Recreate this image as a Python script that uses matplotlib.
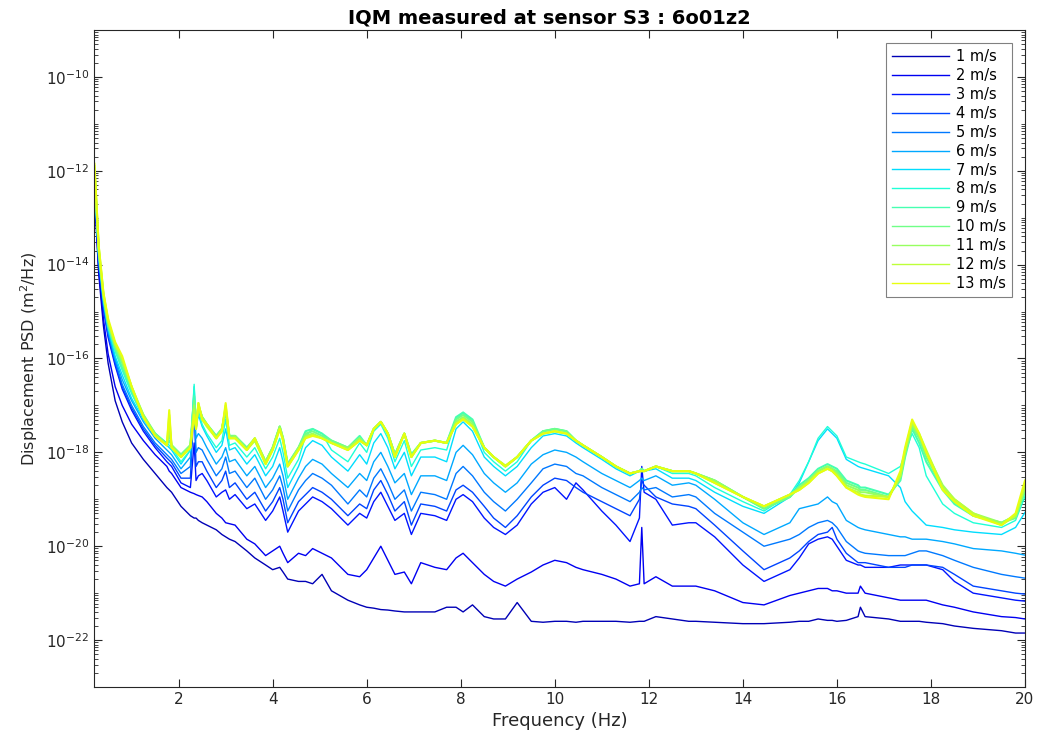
import numpy as np
import matplotlib
matplotlib.use("Agg")
import matplotlib.pyplot as plt
from matplotlib.ticker import FixedLocator, NullFormatter

plt.rcParams['font.family'] = ['DejaVu Sans']
plt.rcParams['mathtext.default'] = 'regular'

# frequency grid (Hz)
freq = [0.21, 0.3, 0.4, 0.5, 0.65, 0.8, 1.0, 1.25, 1.5, 1.75,
        1.8, 1.85, 2.05, 2.25, 2.33, 2.37, 2.42, 2.5, 2.6, 2.8,
        2.92, 3.0, 3.08, 3.2, 3.45, 3.62, 3.85, 4.15, 4.32, 4.55,
        4.85, 5.25, 5.6, 5.85, 6.0, 6.3, 6.6, 6.8, 6.95, 7.15,
        7.7, 8.05, 8.5, 8.95, 9.2, 9.5, 10.0, 10.45, 10.6, 11.0,
        11.6, 11.8, 11.85, 11.9, 12.15, 12.5, 12.85, 13.4, 14.0, 14.45,
        15.0, 15.4, 15.8, 15.9, 16.2, 16.45, 16.5, 16.6, 17.1, 17.35,
        17.6, 17.9, 18.25, 18.9, 19.5, 19.8, 20.0]

# log10 of displacement PSD (m^2/Hz), one list per wind speed
psd_01 = [-12.5, -14.2, -15.3, -16.1, -16.9, -17.35, -17.8, -18.15, -18.45, -18.75,
          -18.8, -18.85, -19.15, -19.35, -19.4, -19.4, -19.45, -19.5, -19.55, -19.65,
          -19.75, -19.8, -19.85, -19.9, -20.1, -20.25, -20.4, -20.45, -20.7, -20.75,
          -20.8, -20.95, -21.15, -21.25, -21.3, -21.35, -21.38, -21.4, -21.4, -21.4,
          -21.3, -21.4, -21.5, -21.55, -21.2, -21.6, -21.6, -21.62, -21.6, -21.6,
          -21.62, -21.6, -21.6, -21.6, -21.5, -21.55, -21.6, -21.62, -21.65, -21.65,
          -21.62, -21.6, -21.58, -21.58, -21.58, -21.5, -21.3, -21.5, -21.55, -21.6,
          -21.6, -21.62, -21.65, -21.75, -21.8, -21.85, -21.85]
psd_02 = [-12.45, -14.1, -15.15, -15.9, -16.6, -17.0, -17.4, -17.75, -18.05, -18.3,
          -18.4, -18.45, -18.75, -18.85, -18.88, -18.9, -18.92, -18.95, -19.05, -19.3,
          -19.4, -19.5, -19.52, -19.55, -19.85, -19.95, -20.2, -20.0, -20.35, -20.15,
          -20.05, -20.25, -20.6, -20.65, -20.5, -20.0, -20.6, -20.55, -20.8, -20.35,
          -20.5, -20.15, -20.6, -20.85, -20.7, -20.55, -20.3, -20.45, -20.5, -20.6,
          -20.85, -20.8, -19.6, -20.8, -20.65, -20.85, -20.85, -20.95, -21.2, -21.25,
          -21.05, -20.95, -20.9, -20.95, -21.0, -21.0, -20.85, -21.0, -21.1, -21.15,
          -21.15, -21.15, -21.25, -21.4, -21.5, -21.52, -21.55]
psd_03 = [-12.35, -14.0, -14.95, -15.55, -16.15, -16.65, -17.1, -17.55, -17.9, -18.2,
          -18.25, -18.3, -18.65, -18.75, -17.8, -18.6, -18.5, -18.45, -18.6, -18.95,
          -18.85, -18.8, -19.0, -18.9, -19.2, -19.1, -19.45, -18.95, -19.7, -19.25,
          -18.95, -19.2, -19.55, -19.3, -19.4, -18.85, -19.45, -19.3, -19.75, -19.3,
          -19.45, -18.9, -19.4, -19.75, -19.55, -19.1, -18.75, -18.65, -18.8, -19.25,
          -19.9, -19.4, -18.3, -18.85, -19.0, -19.55, -19.5, -19.8, -20.4, -20.75,
          -20.5, -19.95, -19.8, -19.85, -20.3, -20.4, -20.4, -20.45, -20.45, -20.4,
          -20.4, -20.4, -20.5, -21.0, -21.1, -21.15, -21.17]
psd_04 = [-12.3, -13.95, -14.9, -15.5, -16.1, -16.6, -17.05, -17.5, -17.85, -18.12,
          -18.17, -18.22, -18.55, -18.55, -17.0, -18.3, -18.2, -18.2, -18.4, -18.75,
          -18.6, -18.4, -18.75, -18.65, -19.0, -18.85, -19.25, -18.75, -19.5, -19.05,
          -18.75, -19.0, -19.35, -19.1, -19.2, -18.6, -19.25, -19.05, -19.55, -19.1,
          -19.25, -18.7, -19.15, -19.6, -19.35, -18.95, -18.55, -18.75, -18.85, -19.05,
          -19.35, -19.0, -18.6, -18.7, -18.95, -19.1, -19.15, -19.55, -20.1, -20.5,
          -20.25, -19.9, -19.7, -19.6, -20.15, -20.35, -20.35, -20.35, -20.45, -20.45,
          -20.4, -20.4, -20.45, -20.85, -20.95, -21.0, -21.02]
psd_05 = [-12.3, -13.9, -14.85, -15.45, -16.05, -16.55, -17.0, -17.45, -17.8, -18.05,
          -18.1, -18.15, -18.45, -18.3, -16.8, -18.0, -17.9, -17.95, -18.15, -18.5,
          -18.35, -18.1, -18.45, -18.4, -18.75, -18.55, -19.0, -18.5, -19.25, -18.8,
          -18.45, -18.7, -19.1, -18.8, -18.95, -18.35, -19.0, -18.8, -19.25, -18.85,
          -19.0, -18.3, -18.85, -19.25, -19.0, -18.65, -18.25, -18.45, -18.5, -18.75,
          -19.05, -18.85, -18.75, -18.8, -18.75, -18.95, -18.9, -19.3, -19.7, -20.0,
          -19.85, -19.6, -19.45, -19.5, -19.9, -20.1, -20.12, -20.15, -20.2, -20.2,
          -20.15, -20.1, -20.2, -20.45, -20.6, -20.65, -20.68]
psd_06 = [-12.25, -13.85, -14.8, -15.4, -16.0, -16.45, -16.9, -17.35, -17.7, -17.95,
          -18.0, -18.05, -18.35, -18.1, -17.0, -17.7, -17.6, -17.7, -17.9, -18.25,
          -18.1, -17.9, -18.2, -18.15, -18.5, -18.3, -18.75, -18.25, -19.0, -18.55,
          -18.15, -18.45, -18.75, -18.45, -18.6, -18.0, -18.65, -18.45, -18.9, -18.5,
          -18.6, -17.85, -18.45, -18.85, -18.65, -18.25, -17.95, -18.1, -18.2, -18.45,
          -18.75, -18.6, -18.55, -18.6, -18.5, -18.7, -18.65, -19.0, -19.5, -19.75,
          -19.5, -19.15, -18.95, -19.05, -19.45, -19.6, -19.62, -19.65, -19.75, -19.8,
          -19.85, -19.85, -19.9, -20.05, -20.1, -20.15, -20.19]
psd_07 = [-12.2, -13.8, -14.75, -15.35, -15.95, -16.35, -16.85, -17.3, -17.65, -17.85,
          -17.9, -17.95, -18.25, -17.95, -16.6, -17.5, -17.2, -17.45, -17.65, -18.0,
          -17.85, -17.5, -17.95, -17.9, -18.25, -18.05, -18.5, -17.9, -18.75, -18.3,
          -17.75, -18.1, -18.4, -18.05, -18.25, -17.6, -18.35, -18.0, -18.5, -18.1,
          -18.2, -17.35, -18.1, -18.5, -18.3, -17.9, -17.6, -17.8, -17.9, -18.15,
          -18.5, -18.4, -18.35, -18.4, -18.35, -18.55, -18.55, -18.85, -19.15, -19.3,
          -18.95, -18.2, -17.5, -17.6, -18.15, -18.3, -18.32, -18.35, -18.5, -18.75,
          -19.25, -19.55, -19.6, -19.7, -19.75, -19.6, -19.28]
psd_08 = [-12.1, -13.75, -14.7, -15.3, -15.85, -16.25, -16.75, -17.25, -17.6, -17.8,
          -17.85, -17.9, -18.2, -17.95, -16.55, -17.4, -17.1, -17.4, -17.6, -17.9,
          -17.75, -17.3, -17.85, -17.8, -18.1, -17.9, -18.35, -17.7, -18.55, -18.15,
          -17.5, -17.95, -18.2, -17.8, -18.0, -17.4, -18.2, -17.75, -18.3, -17.95,
          -17.95, -17.15, -18.0, -18.4, -18.2, -17.75, -17.5, -17.75, -17.85, -18.1,
          -18.45, -18.4, -18.35, -18.4, -18.3, -18.45, -18.45, -18.75, -19.05, -19.25,
          -18.9, -18.2, -17.45, -17.55, -18.1, -18.2, -18.22, -18.25, -18.45, -18.3,
          -17.6, -18.5, -19.1, -19.5, -19.6, -19.45, -18.94]
psd_09 = [-12.05, -13.7, -14.7, -15.3, -15.8, -16.2, -16.7, -17.25, -17.6, -17.82,
          -17.75, -17.85, -18.05, -17.85, -16.8, -17.4, -17.05, -17.25, -17.4, -17.65,
          -17.5, -17.15, -17.65, -17.65, -17.9, -17.75, -18.2, -17.45, -18.25, -17.9,
          -17.5, -17.75, -17.9, -17.65, -17.85, -17.35, -18.05, -17.6, -18.05, -17.8,
          -17.8, -17.15, -17.9, -18.3, -18.1, -17.75, -17.5, -17.75, -17.85, -18.1,
          -18.45, -18.4, -18.35, -18.4, -18.3, -18.4, -18.4, -18.6, -18.95, -19.2,
          -18.95, -18.55, -18.25, -18.3, -18.6, -18.7, -18.75, -18.75, -18.9, -18.6,
          -17.5, -18.2, -18.8, -19.35, -19.5, -19.35, -18.85]
psd_10 = [-12.0, -13.7, -14.65, -15.25, -15.75, -16.1, -16.65, -17.2, -17.6, -17.83,
          -17.6, -17.85, -18.05, -17.85, -16.9, -17.45, -17.0, -17.25, -17.4, -17.65,
          -17.5, -17.1, -17.65, -17.65, -17.9, -17.7, -18.2, -17.45, -18.25, -17.9,
          -17.55, -17.75, -17.9, -17.7, -17.85, -17.35, -18.05, -17.6, -18.05, -17.8,
          -17.8, -17.2, -17.9, -18.3, -18.1, -17.75, -17.5, -17.75, -17.85, -18.1,
          -18.45, -18.4, -18.35, -18.4, -18.3, -18.4, -18.4, -18.6, -18.95, -19.2,
          -18.95, -18.6, -18.3, -18.35, -18.65, -18.75, -18.8, -18.8, -18.95, -18.55,
          -17.45, -18.1, -18.75, -19.35, -19.5, -19.4, -18.8]
psd_11 = [-11.95, -13.65, -14.65, -15.2, -15.7, -16.05, -16.6, -17.2, -17.62, -17.85,
          -17.4, -17.85, -18.1, -17.85, -17.0, -17.45, -17.0, -17.25, -17.4, -17.7,
          -17.5, -17.05, -17.7, -17.65, -17.95, -17.7, -18.2, -17.45, -18.3, -17.9,
          -17.6, -17.8, -17.9, -17.7, -17.85, -17.35, -18.05, -17.6, -18.1, -17.8,
          -17.8, -17.25, -17.9, -18.3, -18.1, -17.75, -17.55, -17.75, -17.85, -18.1,
          -18.45, -18.4, -18.4, -18.4, -18.3, -18.4, -18.4, -18.6, -18.95, -19.15,
          -18.9, -18.6, -18.3, -18.35, -18.7, -18.8, -18.85, -18.85, -18.95, -18.5,
          -17.4, -18.0, -18.7, -19.3, -19.5, -19.35, -18.75]
psd_12 = [-11.9, -13.6, -14.6, -15.2, -15.7, -16.0, -16.6, -17.25, -17.65, -17.85,
          -17.2, -17.9, -18.1, -17.9, -17.1, -17.5, -16.95, -17.3, -17.45, -17.7,
          -17.55, -17.0, -17.7, -17.7, -17.95, -17.75, -18.25, -17.5, -18.3, -17.95,
          -17.62, -17.8, -17.95, -17.75, -17.85, -17.35, -18.1, -17.6, -18.1, -17.8,
          -17.8, -17.28, -17.9, -18.28, -18.1, -17.75, -17.55, -17.75, -17.85, -18.1,
          -18.45, -18.4, -18.4, -18.4, -18.3, -18.4, -18.4, -18.65, -18.95, -19.15,
          -18.9, -18.65, -18.35, -18.4, -18.75, -18.85, -18.9, -18.92, -18.95, -18.5,
          -17.35, -17.95, -18.75, -19.3, -19.55, -19.35, -18.7]
psd_13 = [-11.85, -13.6, -14.6, -15.15, -15.65, -15.95, -16.6, -17.25, -17.65, -17.85,
          -17.1, -17.9, -18.1, -17.9, -17.2, -17.5, -16.95, -17.3, -17.4, -17.7,
          -17.55, -16.95, -17.7, -17.7, -17.95, -17.7, -18.25, -17.5, -18.3, -17.95,
          -17.65, -17.8, -17.95, -17.75, -17.85, -17.35, -18.1, -17.6, -18.1, -17.8,
          -17.8, -17.3, -17.9, -18.3, -18.1, -17.75, -17.55, -17.75, -17.85, -18.1,
          -18.45, -18.4, -18.4, -18.4, -18.3, -18.4, -18.4, -18.65, -18.95, -19.15,
          -18.9, -18.65, -18.35, -18.4, -18.75, -18.9, -18.92, -18.95, -19.0, -18.4,
          -17.3, -18.0, -18.8, -19.35, -19.55, -19.3, -18.6]

# extra read-off points on the shoulders of the broad humps
freq_extra = [4.0, 4.22, 4.7, 5.05, 6.15, 6.45, 7.45, 7.9, 8.25, 8.7,
              9.75, 10.25, 11.3, 13.0, 15.2, 15.6, 16.0, 17.45, 17.75, 18.5]
extra_01 = [-20.5, -20.55, -20.75, -20.6, -21.32, -21.36, -21.4, -21.3, -21.25, -21.55,
            -21.62, -21.6, -21.6, -21.6, -21.6, -21.55, -21.6, -21.6, -21.6, -21.7]
extra_02 = [-20.1, -20.15, -20.2, -20.15, -20.25, -20.3, -20.45, -20.25, -20.35, -20.75,
            -20.4, -20.35, -20.7, -20.85, -21.0, -20.9, -20.95, -21.15, -21.15, -21.3]
extra_03 = [-19.25, -19.25, -19.1, -19.05, -19.05, -19.15, -19.35, -19.0, -19.05, -19.6,
            -18.85, -19.0, -19.55, -19.5, -20.25, -19.85, -20.0, -20.4, -20.4, -20.75]
extra_04 = [-19.05, -19.0, -18.9, -18.85, -18.8, -18.9, -19.15, -18.8, -18.85, -19.4,
            -18.7, -18.6, -19.2, -19.2, -20.1, -19.75, -19.85, -20.45, -20.4, -20.6]
extra_05 = [-18.8, -18.75, -18.6, -18.55, -18.55, -18.65, -18.9, -18.45, -18.5, -19.05,
            -18.35, -18.3, -18.9, -18.95, -19.75, -19.5, -19.6, -20.2, -20.1, -20.3]
extra_06 = [-18.55, -18.5, -18.3, -18.25, -18.2, -18.3, -18.5, -18.0, -18.05, -18.65,
            -18.05, -18.0, -18.6, -18.7, -19.2, -19.1, -19.1, -19.8, -19.85, -19.95]
extra_07 = [-18.3, -18.2, -17.9, -17.85, -17.8, -17.9, -18.1, -17.5, -17.55, -18.3,
            -17.65, -17.65, -18.35, -18.6, -18.65, -17.75, -17.7, -19.05, -19.4, -19.65]
extra_08 = [-18.1, -18.0, -17.65, -17.6, -17.55, -17.7, -17.9, -17.3, -17.35, -18.2,
            -17.55, -17.55, -18.3, -18.5, -18.6, -17.7, -17.65, -18.0, -17.9, -19.3]
extra_09 = [-17.9, -17.7, -17.55, -17.6, -17.5, -17.6, -17.75, -17.25, -17.3, -18.1,
            -17.55, -17.55, -18.3, -18.45, -18.7, -18.35, -18.35, -18.1, -17.8, -19.1]
extra_10 = [-17.9, -17.7, -17.6, -17.65, -17.5, -17.6, -17.75, -17.3, -17.35, -18.1,
            -17.55, -17.55, -18.3, -18.45, -18.75, -18.4, -18.4, -18.05, -17.7, -19.05]
extra_11 = [-17.9, -17.7, -17.65, -17.7, -17.5, -17.6, -17.75, -17.35, -17.4, -18.1,
            -17.6, -17.6, -18.3, -18.45, -18.75, -18.4, -18.45, -18.0, -17.65, -19.0]
extra_12 = [-17.95, -17.75, -17.68, -17.7, -17.5, -17.6, -17.75, -17.4, -17.45, -18.1,
            -17.6, -17.6, -18.3, -18.45, -18.8, -18.45, -18.5, -17.95, -17.6, -19.0]
extra_13 = [-17.95, -17.75, -17.7, -17.7, -17.5, -17.6, -17.75, -17.4, -17.45, -18.1,
            -17.6, -17.6, -18.3, -18.45, -18.8, -18.45, -18.5, -17.9, -17.6, -19.05]

speeds = [1, 2, 3, 4, 5, 6, 7, 8, 9, 10, 11, 12, 13]
all_psd = [psd_01, psd_02, psd_03, psd_04, psd_05, psd_06, psd_07,
           psd_08, psd_09, psd_10, psd_11, psd_12, psd_13]
all_extra = [extra_01, extra_02, extra_03, extra_04, extra_05, extra_06, extra_07,
             extra_08, extra_09, extra_10, extra_11, extra_12, extra_13]

f_all = np.array(freq + freq_extra)
order = np.argsort(f_all)
f_all = f_all[order]

colors = plt.cm.jet(np.linspace(0.05, 0.63, len(speeds)))
widths = [1.0] * 8 + [1.5] * 5   # the high-wind spectra look thicker (noisier)

fig = plt.figure(figsize=(10.41, 7.40), dpi=100)
ax = fig.add_axes([0.0903, 0.0716, 0.8943, 0.8879])

for spd, p, e, c, w in zip(speeds, all_psd, all_extra, colors, widths):
    logp = np.array(p + e)[order]
    ax.semilogy(f_all, 10.0 ** logp, color=c, lw=w, label=f'{spd} m/s')

ax.set_xlim(0.2, 20)
ax.set_ylim(1e-23, 1e-9)
ax.set_xticks([2, 4, 6, 8, 10, 12, 14, 16, 18, 20])
ax.yaxis.set_major_locator(FixedLocator([10.0 ** k for k in range(-22, -9, 2)]))
minors = [m * 10.0 ** k for k in range(-23, -9) for m in range(1, 10)]
ax.yaxis.set_minor_locator(FixedLocator(minors))
ax.yaxis.set_minor_formatter(NullFormatter())
ax.tick_params(which='both', direction='in', top=True, right=True,
               colors='#262626', labelsize=11)
ax.tick_params(which='major', length=6)
ax.tick_params(which='minor', length=3)
for s in ax.spines.values():
    s.set_color('#262626')
    s.set_linewidth(0.8)

ax.set_xlabel('Frequency (Hz)', fontsize=13, color='#262626')
ax.set_ylabel('Displacement PSD (m$^2$/Hz)', fontsize=11.5, color='#262626')
ax.set_title('IQM measured at sensor S3 : 6o01z2', fontsize=14,
             fontweight='bold', pad=5, x=0.489)

leg = ax.legend(loc='upper right', fontsize=10.5, handlelength=3.9,
                handletextpad=0.5, labelspacing=0.27, fancybox=False,
                edgecolor='#808080', framealpha=1, borderaxespad=0.9,
                borderpad=0.4)
leg.get_frame().set_linewidth(0.8)
for ln in leg.get_lines():
    ln.set_linewidth(1.0)

fig.savefig('out.png', dpi=100)
